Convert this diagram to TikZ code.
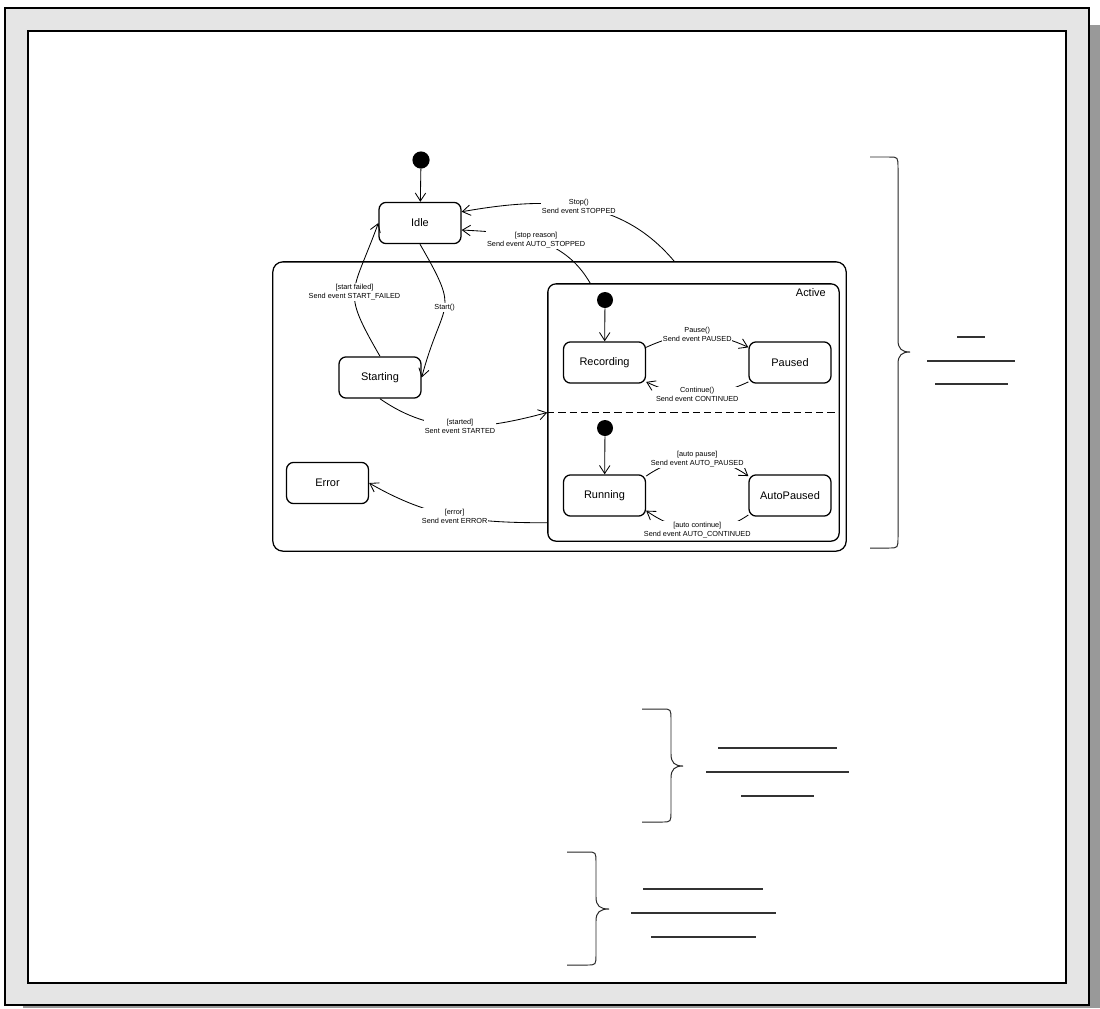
\documentclass[tikz,border=0pt]{standalone}
\usepackage{fontspec}
\setmainfont{Liberation Sans}
\usetikzlibrary{arrows.meta, positioning, calc}

\begin{document}
\begin{tikzpicture}[x=0.025cm, y=-0.025cm,
    state/.style={rectangle, rounded corners=0.18cm, draw, line width=0.9pt,
                  minimum width=2.05cm, minimum height=1.03cm,
                  font=\fontsize{7.8}{9}\selectfont},
    initdot/.style={circle, fill=black, inner sep=0pt, minimum size=0.43cm},
    region/.style={rectangle, rounded corners=0.25cm, draw, line width=0.9pt, inner sep=0pt},
    trans/.style={-{Straight Barb[length=0.2cm, width=0.26cm]}, line width=0.6pt},
    lbl/.style={font=\fontsize{5.2}{6.4}\selectfont, fill=white, inner sep=0.6pt, align=center},
    brc/.style={line width=0.7pt, black!85},
    bar/.style={line width=1.4pt, black!80}]

\useasboundingbox (0,0) rectangle (1100,1008);

%% Page frame with shadow
\fill[black!40] (23,25) rectangle (1100,1008);
\draw[fill=black!10, line width=1pt] (5,8) rectangle (1089,1005);
\draw[fill=white, line width=1pt] (28,31) rectangle (1066,983);

%% Composite states
\node[region, minimum width=14.33cm, minimum height=7.23cm] (main) at (559.5,406.5) {};
\node[region, rounded corners=0.2cm, minimum width=7.28cm, minimum height=6.43cm] (active) at (693.5,412.5) {};
\node[anchor=east, font=\fontsize{7.8}{9}\selectfont] (activelbl) at ($(active.north east)+(-9,9)$) {Active};
\draw[line width=0.8pt, dash pattern=on 0.18cm off 0.1cm] (active.west) -- (active.east);

%% States
\node[initdot] (init) at (421,160) {};
\node[state] (idle) at (420,223) {Idle};
\node[state] (starting) at (380,377.5) {Starting};
\node[state] (error) at (327.5,483) {Error};

\node[initdot, minimum size=0.4cm] (initrec) at (605,300) {};
\node[state] (recording) at (604.5,362.5) {Recording};
\node[state] (paused) at (790,362.5) {Paused};

\node[initdot, minimum size=0.4cm] (initrun) at (605,428) {};
\node[state] (running) at (604.5,495.5) {Running};
\node[state] (autopaused) at (790,495.5) {AutoPaused};

%% Transitions
\draw[trans] (init) -- (idle);
\draw[trans] (initrec) -- (recording);
\draw[trans] (initrun) -- (running);

\draw[trans] (idle.south) to[out=-60, in=75, looseness=1.6]
    node[lbl] {Start()} (starting.east);
\draw[trans] (starting.north) to[out=120, in=-110, looseness=1.5]
    node[lbl] {[start failed]\\Send event START\_FAILED} (idle.west);
\draw[trans] (starting.south) to[out=-35, in=195]
    node[lbl] {[started]\\Sent event STARTED} (active.west);
\draw[trans] ($(active.south west)+(0,-19)$) to[out=180, in=-30]
    node[lbl] {[error]\\Send event ERROR} (error.east);
\draw[trans] ($(active.north west)+(43,0)$) to[out=120, in=-3]
    node[lbl] {[stop reason]\\Send event AUTO\_STOPPED} ($(idle.east)+(0,7)$);
\draw[trans] ($(main.north west)+(402,0)$) to[out=130, in=10]
    node[lbl] {Stop()\\Send event STOPPED} ($(idle.north east)+(0,10)$);

\draw[trans] (recording.20) to[out=25, in=155]
    node[lbl] {Pause()\\Send event PAUSED} (paused.160);
\draw[trans] (paused.205) to[out=-155, in=-25]
    node[lbl] {Continue()\\Send event CONTINUED} (recording.-25);
\draw[trans] (running.25) to[out=35, in=145]
    node[lbl] {[auto pause]\\Send event AUTO\_PAUSED} (autopaused.155);
\draw[trans] (autopaused.205) to[out=-145, in=-35]
    node[lbl] {[auto continue]\\Send event AUTO\_CONTINUED} (running.-20);

%% Braces
\foreach \xa/\xv/\xt/\ya/\ym/\yb in {870/898/910/157/352/548, 642/671/683/709/766/822, 567/596/609/852/909/965}
    \draw[brc] (\xa,\ya) -- (\xv-9,\ya) .. controls (\xv,\ya) .. (\xv,\ya+11)
        -- (\xv,\ym-12) .. controls (\xv,\ym-3) and (\xv+4,\ym) .. (\xt,\ym)
        .. controls (\xv+4,\ym) and (\xv,\ym+3) .. (\xv,\ym+12)
        -- (\xv,\yb-11) .. controls (\xv,\yb) .. (\xv-9,\yb) -- (\xa,\yb);

%% Placeholder text lines
\draw[bar] (957,337) -- (985,337);
\draw[bar] (927,361) -- (1015,361);
\draw[bar] (935,384) -- (1008,384);
\draw[bar] (718,748) -- (837,748);
\draw[bar] (706,772) -- (849,772);
\draw[bar] (741,796) -- (814,796);
\draw[bar] (643,889) -- (763,889);
\draw[bar] (631,913) -- (776,913);
\draw[bar] (651,937) -- (756,937);

\end{tikzpicture}
\end{document}
